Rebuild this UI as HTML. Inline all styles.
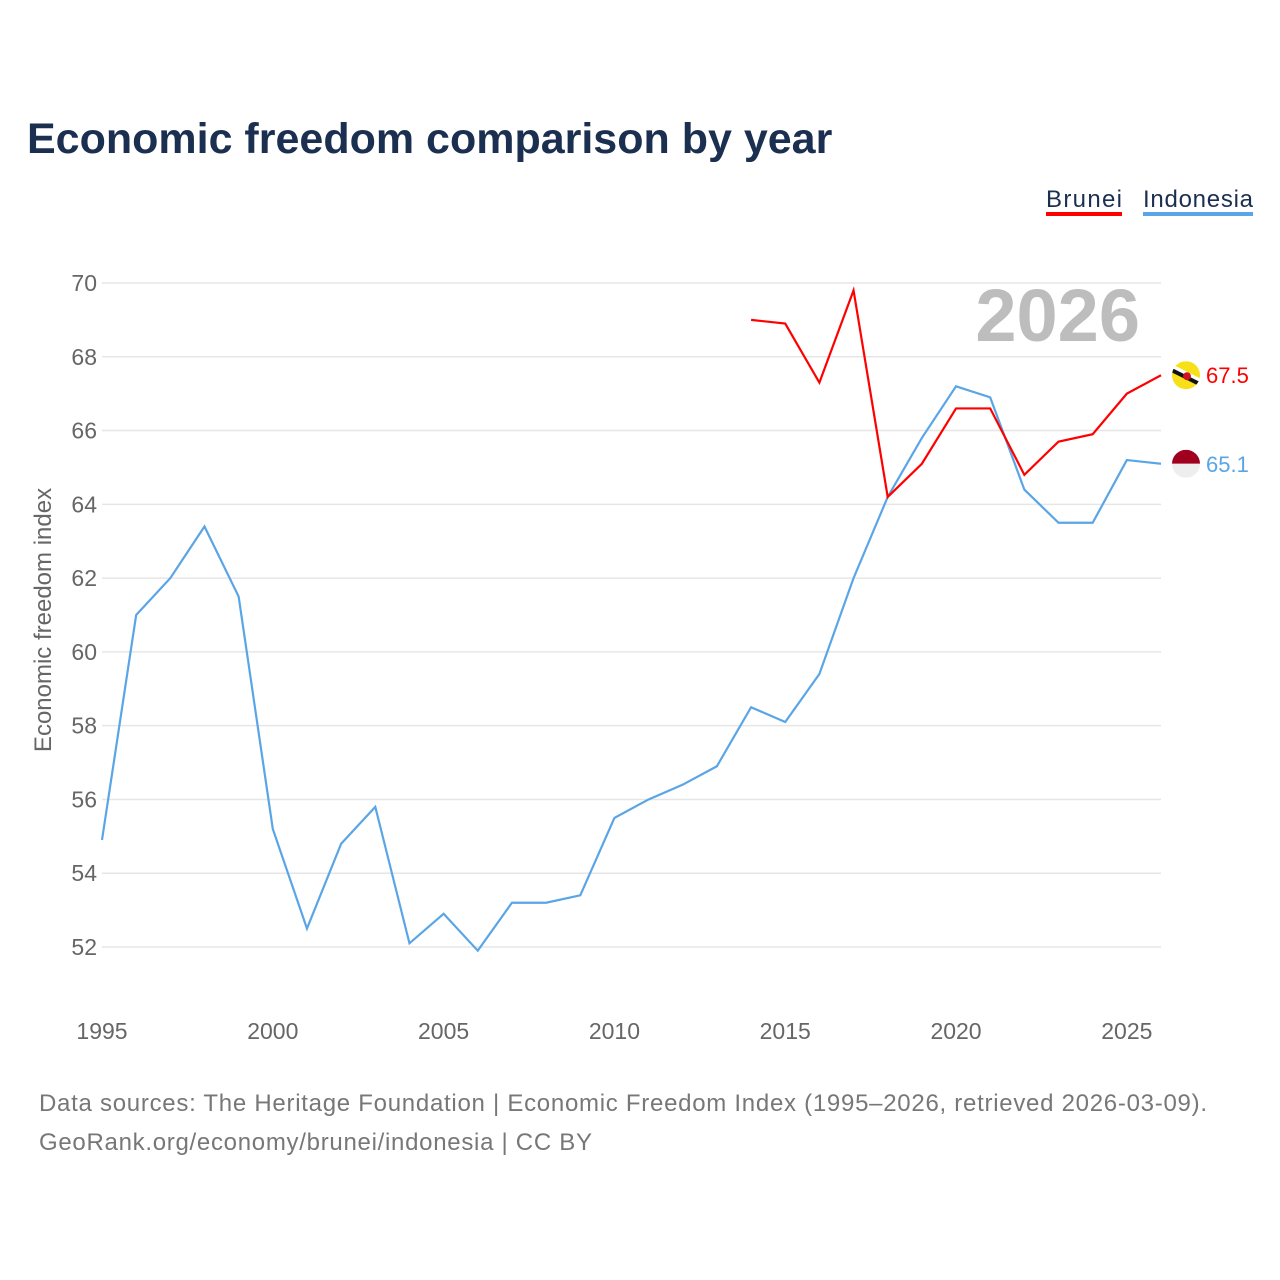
<!DOCTYPE html>
<html><head><meta charset="utf-8">
<style>
body{margin:0;background:#fff;}
svg{display:block;font-family:"Liberation Sans",sans-serif;}
</style></head>
<body>
<svg width="1280" height="1280" viewBox="0 0 1280 1280">
<rect width="1280" height="1280" fill="#fff"/>
<text x="27" y="153" font-size="43" font-weight="bold" fill="#1b2f50">Economic freedom comparison by year</text>
<g>
<text x="1046" y="207" font-size="24" fill="#1b2f50" textLength="76">Brunei</text>
<rect x="1046" y="212" width="76" height="4" fill="#ff0000"/>
<text x="1143" y="207" font-size="24" fill="#1b2f50" textLength="110">Indonesia</text>
<rect x="1143" y="212" width="110" height="4" fill="#5aa5e6"/>
</g>
<text x="1140" y="341" font-size="74" font-weight="bold" fill="#bdbdbd" text-anchor="end">2026</text>
<text transform="translate(51,620) rotate(-90)" font-size="24" fill="#666" text-anchor="middle">Economic freedom index</text>
<g id="grid"></g><g id="yt"></g><g id="xt"></g><g id="lines"></g><g id="ends"></g>
<text x="39" y="1111" font-size="24" fill="#777" textLength="1168">Data sources: The Heritage Foundation | Economic Freedom Index (1995–2026, retrieved 2026-03-09).</text>
<text x="39" y="1150" font-size="24" fill="#777" textLength="553">GeoRank.org/economy/brunei/indonesia | CC BY</text>
</svg>
<script>
const years=[1995,1996,1997,1998,1999,2000,2001,2002,2003,2004,2005,2006,2007,2008,2009,2010,2011,2012,2013,2014,2015,2016,2017,2018,2019,2020,2021,2022,2023,2024,2025,2026];
const indonesia=[54.9,61.0,62.0,63.4,61.5,55.2,52.5,54.8,55.8,52.1,52.9,51.9,53.2,53.2,53.4,55.5,56.0,56.4,56.9,58.5,58.1,59.4,62.0,64.2,65.8,67.2,66.9,64.4,63.5,63.5,65.2,65.1];
const bruneiYears=[2014,2015,2016,2017,2018,2019,2020,2021,2022,2023,2024,2025,2026];
const brunei=[69.0,68.9,67.3,69.8,64.2,65.1,66.6,66.6,64.8,65.7,65.9,67.0,67.5];
const yTicks=[52,54,56,58,60,62,64,66,68,70];
const xTicks=[1995,2000,2005,2010,2015,2020,2025];
const NS="http://www.w3.org/2000/svg";
const X=v=>102+(v-1995)*(1059/31);
const Y=v=>283+(70-v)*(664/18);
function mk(t,a,p){const e=document.createElementNS(NS,t);for(const k in a)e.setAttribute(k,a[k]);p.appendChild(e);return e;}
const grid=document.getElementById('grid'),yt=document.getElementById('yt'),xt=document.getElementById('xt');
yTicks.forEach(v=>{
 const l=mk('line',{x1:102,x2:1161,y1:Y(v),y2:Y(v),stroke:'#e6e6e6','stroke-width':1.5},grid);
 
 
 const t=mk('text',{x:97,y:Y(v)+8,'font-size':23,fill:'#666','text-anchor':'end'},yt);
 t.textContent=v;
 
 
});
xTicks.forEach(v=>{
 const t=mk('text',{x:X(v),y:1039,'font-size':23,fill:'#666','text-anchor':'middle'},xt);
 t.textContent=v;
 
 
});
const lines=document.getElementById('lines');
const pi=mk('polyline',{points:years.map((y,i)=>X(y)+','+Y(indonesia[i])).join(' '),fill:'none',stroke:'#5aa5e6','stroke-width':2.2},lines);


const pb=mk('polyline',{points:bruneiYears.map((y,i)=>X(y)+','+Y(brunei[i])).join(' '),fill:'none',stroke:'#ff0000','stroke-width':2.2},lines);


const ends=document.getElementById('ends');
const bv=brunei[brunei.length-1],iv=indonesia[indonesia.length-1];
const gb=mk('g',{},ends);


mk('defs',{},gb).innerHTML='<clipPath id="cb"><circle cx="1186" cy="'+Y(bv)+'" r="14"/></clipPath><clipPath id="ci"><circle cx="1186" cy="'+Y(iv)+'" r="14"/></clipPath>';
const gbc=mk('g',{'clip-path':'url(#cb)'},gb);
mk('rect',{x:1172,y:Y(bv)-14,width:28,height:28,fill:'#f7e017'},gbc);
mk('line',{x1:1170,y1:Y(bv)-8,x2:1202,y2:Y(bv)+8,stroke:'#fff','stroke-width':7},gbc);
mk('line',{x1:1170,y1:Y(bv)-6,x2:1202,y2:Y(bv)+10,stroke:'#111','stroke-width':4},gbc);
mk('circle',{cx:1187,cy:Y(bv)+1,r:4,fill:'#cf1126'},gbc);
const tb=mk('text',{x:1206,y:Y(bv)+8,'font-size':22,fill:'#ff0000'},ends);
tb.textContent=bv.toFixed(1);


const gi=mk('g',{'clip-path':'url(#ci)'},ends);


mk('rect',{x:1172,y:Y(iv)-14,width:28,height:14,fill:'#a0001e'},gi);
mk('rect',{x:1172,y:Y(iv),width:28,height:14,fill:'#eeeeee'},gi);
const ti=mk('text',{x:1206,y:Y(iv)+8,'font-size':22,fill:'#5aa5e6'},ends);
ti.textContent=iv.toFixed(1);


</script>
</body></html>
